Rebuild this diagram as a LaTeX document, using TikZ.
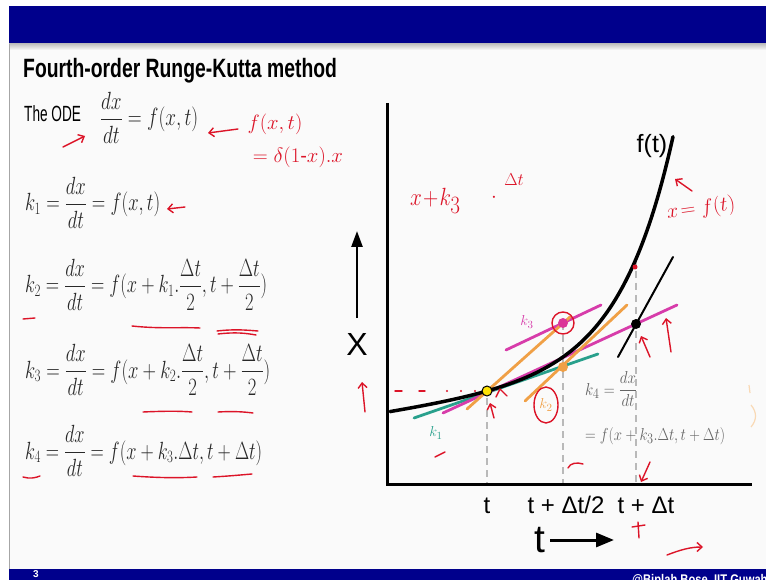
\documentclass[tikz,border=0pt]{standalone}
\usepackage{fontspec}
\setmainfont{Liberation Sans}
\usepackage{amsmath}
\usepackage{graphicx}
\usetikzlibrary{arrows.meta}
\definecolor{band}{RGB}{0,0,140}
\definecolor{slidebg}{RGB}{250,250,250}
\definecolor{tealk}{RGB}{40,160,140}
\definecolor{pinkk}{RGB}{215,60,170}
\definecolor{orangek}{RGB}{240,160,70}
\definecolor{ink}{RGB}{220,20,40}
\definecolor{eqgrey}{RGB}{100,100,100}
\definecolor{eqblack}{RGB}{40,40,40}
\newcommand{\eqw}[2]{\resizebox{#1}{\height}{$\displaystyle #2$}}
\begin{document}
\begin{tikzpicture}[x=1pt,y=-1pt,
  hand/.style={draw=ink, line width=1.4, line cap=round, line join=round},
  handarrow/.style={hand, -{Straight Barb[length=5pt,width=9pt]}},
  tang/.style={line width=2.8, line cap=round},
  guide/.style={draw=gray!55, line width=1.6, dash pattern=on 7pt off 5pt},
  eq/.style={anchor=base west, inner sep=0pt, text=eqblack, font=\fontsize{24}{28}\selectfont},
  smalleq/.style={anchor=base west, inner sep=0pt, text=eqgrey, font=\fontsize{19}{22}\selectfont},
  ticklab/.style={anchor=base, inner sep=0pt, font=\fontsize{24}{28}\selectfont},
  handtext/.style={inner sep=0pt, text=ink},
  klab/.style={inner sep=0pt, font=\fontsize{15}{18}\selectfont},
  kdot/.style={circle, inner sep=0pt, minimum size=10pt}]
\useasboundingbox (0,0) rectangle (766,580);
% slide background
\fill[white] (0,0) rectangle (766,580);
\fill[slidebg] (9,44) rectangle (766,569);
\shade[top color=gray!55, bottom color=slidebg] (9,43) rectangle (766,50);
\fill[band] (9,6) rectangle (766,43);
\draw[gray!70, line width=0.8] (9,44) -- (9,569);
\fill[band] (9,569) rectangle (766,580);
\node[inner sep=0pt, text=white, font=\bfseries\fontsize{10}{11}\selectfont] (pagenum) at (36,574.5) {3};
\begin{scope}
\clip (9,569) rectangle (766,580);
\node[anchor=base west, inner sep=0pt, text=white, font=\bfseries\fontsize{14}{16}\selectfont] (credit) at (632,584) {\scalebox{0.8}[1]{@Biplah Bose, IIT Guwahati}};
\end{scope}
% title
\node[anchor=base west, inner sep=0pt, font=\bfseries\fontsize{26.5}{30}\selectfont] (title) at (23,78) {\scalebox{0.73}[1]{Fourth-order Runge-Kutta method}};
% equations
\node[anchor=base west, inner sep=0pt, font=\fontsize{22}{26}\selectfont] (ode) at (24,122) {\scalebox{0.62}[1]{The ODE}};
\node[eq] (odeq) at (100,126) {\eqw{98pt}{\frac{dx}{dt}=f(x,t)}};
\node[eq] (k1) at (25,211) {\eqw{135pt}{k_1=\frac{dx}{dt}=f(x,t)}};
\node[eq] (k2) at (25,293) {\eqw{242pt}{k_2=\frac{dx}{dt}=f(x+k_1.\frac{\Delta t}{2},t+\frac{\Delta t}{2})}};
\node[eq] (k3) at (25,378) {\eqw{245pt}{k_3=\frac{dx}{dt}=f(x+k_2.\frac{\Delta t}{2},t+\frac{\Delta t}{2})}};
\node[eq] (k4) at (25,459) {\eqw{237pt}{k_4=\frac{dx}{dt}=f(x+k_3.\Delta t,t+\Delta t)}};
% ---------- graph ----------
\coordinate (O) at (387,484);
\coordinate (Ytop) at (387,103);
\coordinate (Xend) at (752,484);
\coordinate (P0) at (487,391);
\coordinate (M2) at (563,367);
\coordinate (M3) at (563,323);
\coordinate (E) at (636,324);
\coordinate (C) at (636,259);
% guide dashed lines
\draw[guide] (487,398) -- (487,484);
\draw[guide] (M3) -- (563,484);
\draw[guide] (C) -- (636,484);
% tangent lines
\draw[tang, tealk] (414,418) -- (598,354);
\draw[tang, pinkk] (443,413) -- (677,305);
\draw[tang, pinkk] (506,350) -- (601,305);
\draw[tang, orangek] (467,409) -- (570,317);
\draw[tang, orangek] (525,401) -- (627,305);
\draw[line width=2, line cap=round] (618,357) -- (673,257);
% curve f(t)
\draw[line width=3.5, line cap=round] plot[domain=390:673, samples=80, smooth] (\x, {391 - 0.15*(\x-487) - 7.2*(exp(0.0187*(\x-487))-1)});
% axes
\draw[line width=3] (Ytop) -- (O) -- (Xend);
% dots
\node[kdot, fill=yellow!85!orange, draw=black, line width=1] (d0) at (P0) {};
\node[kdot, fill=orangek] (d2) at (M2) {};
\node[kdot, fill=pinkk!90!red] (d3) at (M3) {};
\node[kdot, fill=black] (d4) at (E) {};
% labels
\node[inner sep=0pt, font=\fontsize{25}{28}\selectfont] (ft) at (652,146) {f(t)};
\node[klab, text=tealk] (lk1) at (436,433) {$k_1$};
\node[klab, text=orangek] (lk2) at (546,405) {$k_2$};
\node[klab, text=pinkk] (lk3) at (527,322) {$k_3$};
\node[smalleq] (k4a) at (585,395) {\eqw{52pt}{k_4=\frac{dx}{dt}}};
\node[smalleq] (k4b) at (585,440) {\eqw{140pt}{=f(x+k_3.\Delta t,t+\Delta t)}};
\node[ticklab] (tt0) at (487,513) {t};
\node[ticklab] (tt1) at (566,513) {t + Δt/2};
\node[ticklab] (tt2) at (646,513) {t + Δt};
\node[inner sep=0pt, font=\fontsize{39}{42}\selectfont] (tbig) at (540,540) {t};
\coordinate (tA) at (550,540);
\coordinate (tB) at (614,540);
\draw[line width=3, -{Triangle[length=18pt,width=14pt]}] (tA) -- (tB);
\node[inner sep=0pt, font=\fontsize{32}{34}\selectfont] (Xlab) at (357,344) {X};
\coordinate (xA) at (357,318);
\coordinate (xB) at (357,231);
\draw[line width=2.5, -{Triangle[length=16pt,width=11pt]}] (xA) -- (xB);
% ---------- handwritten annotations ----------
\draw[handarrow] (63,147) -- (85,136);
\draw[handarrow] (238,129) -- (208,133);
\node[handtext, font=\fontsize{22}{24}\selectfont] (hw1) at (275,124) {$f(x,t)$};
\node[handtext, font=\fontsize{20}{22}\selectfont] (hw2) at (298,157) {$=\delta(1\text{-}x).x$};
\draw[handarrow] (185,207) -- (167,209);
% underlines
\draw[hand] (23,319) -- (35,318);
\draw[hand] (132,326) .. controls (160,329) and (180,327) .. (200,328);
\draw[hand] (217,331) .. controls (235,329) and (245,330) .. (258,331);
\draw[hand] (218,334) .. controls (235,332) and (245,333) .. (256,335);
\draw[hand] (143,412) .. controls (165,411) and (180,411) .. (192,412);
\draw[hand] (218,412) .. controls (235,411) and (245,412) .. (253,413);
\draw[hand] (23,477) .. controls (30,479) and (35,478) .. (40,476);
\draw[hand] (133,476) .. controls (160,478) and (180,478) .. (197,477);
\draw[hand] (213,477) .. controls (230,476) and (240,475) .. (252,474);
% left of graph
\draw[handarrow] (365,412) -- (362,382);
% top of graph
\node[handtext, anchor=base west, font=\fontsize{36}{38}\selectfont] (hw3) at (410,206) {\scalebox{0.85}[1]{$x\!+\!k_{3}$}};
\node[handtext, font=\fontsize{20}{22}\selectfont] (hw4) at (494,198) {$\cdot$};
\node[handtext, font=\fontsize{18}{20}\selectfont] (hw5) at (514,180) {$\Delta t$};
\node[handtext, rotate=8, font=\fontsize{21}{23}\selectfont] (hw6) at (701,209) {$x\!=f(t)$};
\draw[handarrow] (692,191) -- (675,179);
\fill[ink] (635,267) circle (2.5);
% dots annotations
\draw[hand] (M3) circle (11);
\draw[hand] (lk2) ellipse (12 and 18);
\draw[hand] (395,391) -- (402,391);
\draw[hand] (419,391) -- (425,391);
\fill[ink] (447,391) circle (1.1);
\fill[ink] (461,391) circle (1.1);
\fill[ink] (475,391) circle (1.1);
\draw[handarrow] (494,418) -- (490,403);
\draw[hand] (496,397) -- (500,389) -- (507,396);
\draw[handarrow] (650,357) -- (641,336);
\draw[handarrow] (671,352) -- (666,318);
\draw[hand] (435,457) -- (445,452);
\draw[hand] (568,468) .. controls (570,463) and (577,462) .. (583,464);
\draw[handarrow] (650,462) -- (641,482);
\draw[hand] (632,527) -- (645,525);
\draw[hand] (638,522) -- (639,538);
\draw[handarrow] (667,555) .. controls (680,550) and (690,547) .. (703,547);
\draw[orangek!40, line width=1.2] (749,385) -- (750,393);
\draw[orangek!40, line width=1.2] (751,405) .. controls (757,412) and (757,420) .. (751,427);
\end{tikzpicture}
\end{document}
